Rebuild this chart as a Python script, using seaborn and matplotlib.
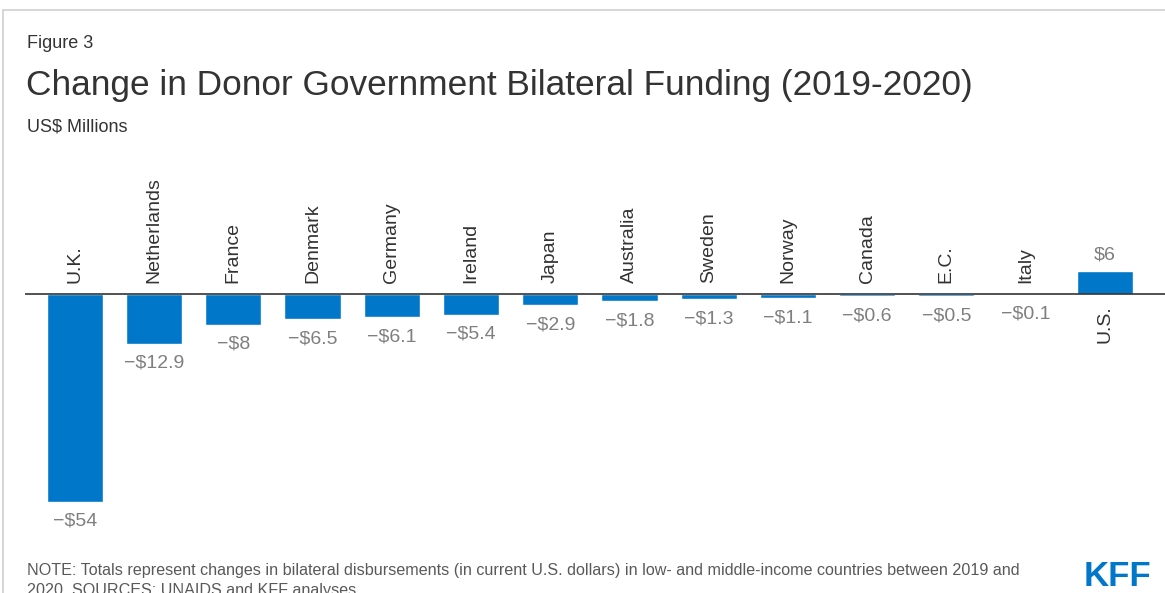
import matplotlib
matplotlib.use("Agg")
import matplotlib.pyplot as plt
import seaborn as sns
import pandas as pd
from matplotlib.lines import Line2D

# Donor governments and their 2019-2020 change in bilateral funding (US$ millions)
countries = ["U.K.", "Netherlands", "France", "Denmark", "Germany", "Ireland", "Japan",
             "Australia", "Sweden", "Norway", "Canada", "E.C.", "Italy", "U.S."]
changes = [-54, -12.9, -8, -6.5, -6.1, -5.4, -2.9, -1.8, -1.3, -1.1, -0.6, -0.5, -0.1, 6]
value_labels = ["\u2212$54", "\u2212$12.9", "\u2212$8", "\u2212$6.5", "\u2212$6.1", "\u2212$5.4",
                "\u2212$2.9", "\u2212$1.8", "\u2212$1.3", "\u2212$1.1", "\u2212$0.6", "\u2212$0.5",
                "\u2212$0.1", "$6"]

BLUE = "#0077c8"
DARK = "#333333"
GREY = "#7f7f7f"
FONT = ["Liberation Sans", "DejaVu Sans"]

sns.set_theme(style="white")
plt.rcParams["font.family"] = FONT

W, H = 1165, 593
fig = plt.figure(figsize=(W / 100, H / 100), dpi=100)

# Plot area in pixel terms, converted to figure fractions
ax_left, ax_right, ax_top, ax_bottom = 25, 1165, 170, 540
ax = fig.add_axes([ax_left / W, 1 - ax_bottom / H, (ax_right - ax_left) / W, (ax_bottom - ax_top) / H])

df = pd.DataFrame({"country": countries, "change": changes})
sns.barplot(data=df, x="country", y="change", color=BLUE, saturation=1, width=0.71,
            ax=ax, errorbar=None)

ax.set_xlim(-0.63, 13.76)
ax.set_ylim(-63.9, 32.2)
ax.axhline(0, color=DARK, lw=1.2, zorder=3)
ax.set_axis_off()

LABEL_SIZE = 14
for i, (name, val, lab) in enumerate(zip(countries, changes, value_labels)):
    if val < 0:
        ax.annotate(name, (i, 0), xytext=(0, 8), textcoords="offset points",
                    rotation=90, ha="center", va="bottom", fontsize=LABEL_SIZE, color=DARK)
        ax.annotate(lab, (i, val), xytext=(0, -8), textcoords="offset points",
                    ha="center", va="top", fontsize=LABEL_SIZE, color=GREY)
    else:
        ax.annotate(name, (i, 0), xytext=(0, -8), textcoords="offset points",
                    rotation=90, ha="center", va="top", fontsize=LABEL_SIZE, color=DARK)
        ax.annotate(lab, (i, val), xytext=(0, 5), textcoords="offset points",
                    ha="center", va="bottom", fontsize=LABEL_SIZE, color=GREY)

# Headings
fig.text(27 / W, 1 - 44 / H, "Figure 3", fontsize=13, color=DARK, va="center", ha="left")
fig.text(26 / W, 1 - 85 / H, "Change in Donor Government Bilateral Funding (2019-2020)",
         fontsize=25.4, color=DARK, va="center", ha="left")
fig.text(27 / W, 1 - 127 / H, "US$ Millions", fontsize=13, color=DARK, va="center", ha="left")

# Footnote
fig.text(27 / W, 1 - 570 / H,
         "NOTE: Totals represent changes in bilateral disbursements (in current U.S. dollars) in low- and middle-income countries between 2019 and",
         fontsize=11.65, color="#595959", va="center", ha="left")
fig.text(27 / W, 1 - 591 / H, "2020. SOURCES: UNAIDS and KFF analyses.",
         fontsize=11.65, color="#595959", va="center", ha="left")

# Logo wordmark
fig.text(1117 / W, 1 - 577 / H, "KFF", fontsize=25, color=BLUE, fontweight="bold",
         family=["Liberation Sans Narrow", "Liberation Sans"], va="center", ha="center")

# Light frame on the top and left edges
fig.add_artist(Line2D([3 / W, 1], [1 - 10 / H, 1 - 10 / H], transform=fig.transFigure,
                      color="#d0d0d0", lw=1.2))
fig.add_artist(Line2D([3 / W, 3 / W], [0, 1 - 10 / H], transform=fig.transFigure,
                      color="#d0d0d0", lw=1.2))

fig.savefig("out.png", dpi=100, facecolor="white")
